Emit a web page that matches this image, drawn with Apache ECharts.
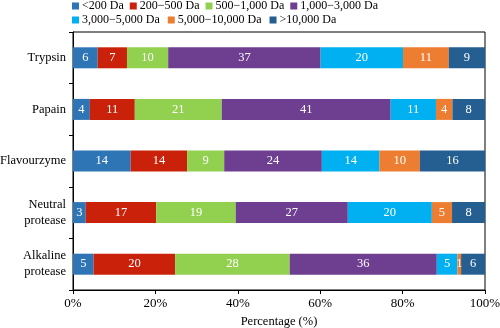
<!DOCTYPE html>
<html><head><meta charset="utf-8">
<script src="https://cdn.jsdelivr.net/npm/echarts@6/dist/echarts.min.js"></script>
<style>html,body{margin:0;padding:0;background:#fff}#c{width:500px;height:328px}</style>
</head><body><div id="c"></div>
<script>
var categories = ['Trypsin', 'Papain', 'Flavourzyme', 'Neutral\nprotease', 'Alkaline\nprotease'];
var seriesNames = ['<200 Da', '200\u2212500 Da', '500\u22121,000 Da', '1,000\u22123,000 Da', '3,000\u22125,000 Da', '5,000\u221210,000 Da', '>10,000 Da'];
var s200 = [6, 4.1, 14, 3.1, 5];
var s500 = [7.1, 10.9, 13.7, 17.1, 19.8];
var s1000 = [10, 21.1, 9, 19.3, 27.8];
var s3000 = [37, 41, 23.7, 27.2, 35.7];
var s5000 = [20, 11, 14, 20.4, 5];
var s10000 = [11.1, 4, 9.8, 4.9, 0.9];
var sOver = [8.8, 7.9, 15.8, 8, 5.8];
var xTicks = [0, 20, 40, 60, 80, 100];
var colors = ['#2E75B6', '#C9210A', '#92D050', '#6E3F91', '#00B0F0', '#ED7D31', '#255E91'];
var values = [s200, s500, s1000, s3000, s5000, s10000, sOver];
var font = '"Liberation Serif", "Times New Roman", serif';
var series = values.map(function (v, i) {
  return {
    name: seriesNames[i], type: 'bar', stack: 'all', data: v, barWidth: 21,
    itemStyle: { color: colors[i] },
    label: { show: true, color: '#fff', fontFamily: font, fontSize: 12.5,
      formatter: function (p) { return Math.round(p.value); } }
  };
});
function legendCfg(names, top, gap) {
  return {
    data: names, left: 72, top: top, itemWidth: 7, itemHeight: 7, padding: 0,
    itemGap: gap, icon: 'rect',
    textStyle: { fontFamily: font, fontSize: 12, color: '#000', padding: [0, 0, 0, -2] }
  };
}
var chart = echarts.init(document.getElementById('c'));
chart.setOption({
  animation: false,
  textStyle: { fontFamily: font },
  color: colors,
  legend: [legendCfg(seriesNames.slice(0, 4), 0, 6), legendCfg(seriesNames.slice(4), 14, 8)],
  grid: { left: 73, right: 15, top: 32, bottom: 38, show: true, borderColor: '#000', borderWidth: 1, outerBoundsMode: 'none' },
  xAxis: {
    type: 'value', min: 0, max: 100, interval: 20,
    name: 'Percentage (%)', nameLocation: 'middle', nameGap: 24,
    nameTextStyle: { fontFamily: font, fontSize: 12.5, color: '#000' },
    axisLine: { show: true, lineStyle: { color: '#000' } },
    axisTick: { show: true, length: 4, lineStyle: { color: '#000' } },
    splitLine: { show: false },
    axisLabel: { fontFamily: font, fontSize: 13, color: '#000', margin: 7,
      formatter: function (v) { return xTicks.indexOf(v) >= 0 ? v + '%' : ''; } }
  },
  yAxis: {
    type: 'category', data: categories, inverse: true,
    axisLine: { show: true, lineStyle: { color: '#000' } },
    axisTick: { show: true, length: 4, lineStyle: { color: '#000' } },
    axisLabel: { fontFamily: font, fontSize: 12.5, color: '#000', align: 'right', margin: 7, lineHeight: 16 }
  },
  series: series
});
</script></body></html>
